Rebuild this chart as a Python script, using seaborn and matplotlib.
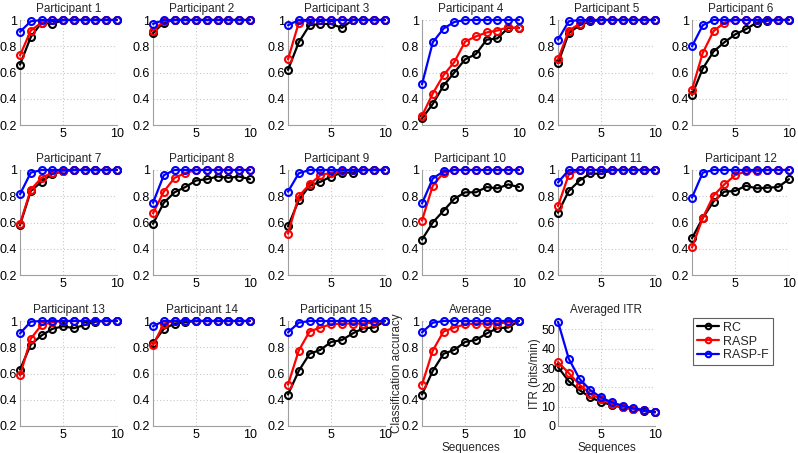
import numpy as np
import pandas as pd
import matplotlib
matplotlib.use("Agg")
import matplotlib.pyplot as plt
from matplotlib.lines import Line2D
import seaborn as sns

sequences = list(range(1, 10 + 1))
methods = ["RC", "RASP", "RASP-F"]
colors = {"RC": "#000000", "RASP": "#ff0000", "RASP-F": "#0000ff"}

titles = ["Participant %d" % i for i in range(1, 16)] + ["Average"]

rc = [
    [0.66, 0.87, 0.98, 0.97, 1, 1, 1, 1, 1, 1],
    [0.90, 0.98, 1, 1, 1, 1, 1, 1, 1, 1],
    [0.62, 0.83, 0.96, 0.97, 0.97, 0.94, 1, 1, 1, 1],
    [0.25, 0.36, 0.50, 0.60, 0.70, 0.74, 0.85, 0.86, 0.94, 0.94],
    [0.67, 0.90, 0.96, 0.99, 1, 1, 1, 1, 1, 1],
    [0.43, 0.63, 0.76, 0.83, 0.89, 0.93, 0.98, 0.995, 1, 1],
    [0.58, 0.84, 0.91, 0.97, 0.99, 1, 1, 1, 1, 1],
    [0.59, 0.75, 0.83, 0.87, 0.92, 0.93, 0.95, 0.94, 0.95, 0.93],
    [0.57, 0.77, 0.88, 0.91, 0.95, 0.98, 0.98, 1, 1, 1],
    [0.47, 0.60, 0.69, 0.78, 0.83, 0.83, 0.87, 0.86, 0.89, 0.87],
    [0.675, 0.84, 0.92, 0.975, 0.97, 1, 1, 1, 1, 1],
    [0.48, 0.635, 0.76, 0.835, 0.84, 0.88, 0.86, 0.865, 0.87, 0.93],
    [0.63, 0.82, 0.89, 0.94, 0.96, 0.945, 0.97, 0.995, 1, 1],
    [0.83, 0.94, 0.98, 0.99, 1, 1, 1, 1, 1, 1],
    [0.44, 0.62, 0.75, 0.78, 0.84, 0.855, 0.905, 0.945, 0.95, 1],
    [0.44, 0.62, 0.75, 0.78, 0.84, 0.855, 0.905, 0.945, 0.95, 1],
]
rasp = [
    [0.73, 0.92, 0.98, 1, 1, 1, 1, 1, 1, 1],
    [0.92, 0.99, 1, 1, 1, 1, 1, 1, 1, 1],
    [0.70, 0.98, 1, 1, 1, 1, 1, 1, 1, 1],
    [0.27, 0.44, 0.58, 0.68, 0.835, 0.875, 0.905, 0.92, 0.945, 0.937],
    [0.70, 0.92, 0.97, 1, 1, 1, 1, 1, 1, 1],
    [0.47, 0.75, 0.915, 0.98, 1, 1, 1, 1, 1, 1],
    [0.59, 0.85, 0.94, 0.98, 0.99, 1, 1, 1, 1, 1],
    [0.67, 0.835, 0.94, 0.977, 1, 1, 1, 1, 1, 1],
    [0.515, 0.80, 0.89, 0.96, 0.98, 0.99, 1, 1, 1, 1],
    [0.615, 0.88, 0.98, 1, 1, 1, 1, 1, 1, 1],
    [0.725, 0.965, 1, 1, 1, 1, 1, 1, 1, 1],
    [0.41, 0.635, 0.805, 0.89, 0.96, 0.99, 0.99, 1, 1, 1],
    [0.585, 0.865, 0.97, 0.99, 1, 1, 1, 1, 1, 1],
    [0.815, 0.98, 1, 1, 1, 1, 1, 1, 1, 1],
    [0.515, 0.775, 0.92, 0.95, 0.975, 0.98, 0.98, 0.98, 0.99, 1],
    [0.515, 0.775, 0.92, 0.95, 0.975, 0.98, 0.98, 0.98, 0.99, 1],
]
raspf = [
    [0.91, 0.99, 1, 1, 1, 1, 1, 1, 1, 1],
    [0.97, 1, 1, 1, 1, 1, 1, 1, 1, 1],
    [0.96, 1, 1, 1, 1, 1, 1, 1, 1, 1],
    [0.51, 0.83, 0.935, 0.985, 1, 1, 1, 1, 1, 1],
    [0.85, 0.99, 1, 1, 1, 1, 1, 1, 1, 1],
    [0.80, 0.96, 1, 1, 1, 1, 1, 1, 1, 1],
    [0.815, 0.98, 1, 1, 1, 1, 1, 1, 1, 1],
    [0.75, 0.96, 1, 1, 1, 1, 1, 1, 1, 1],
    [0.835, 0.975, 1, 1, 1, 1, 1, 1, 1, 1],
    [0.745, 0.935, 0.99, 1, 1, 1, 1, 1, 1, 1],
    [0.905, 1, 1, 1, 1, 1, 1, 1, 1, 1],
    [0.79, 0.98, 1, 1, 1, 1, 1, 1, 1, 1],
    [0.905, 0.995, 1, 1, 1, 1, 1, 1, 1, 1],
    [0.96, 1, 1, 1, 1, 1, 1, 1, 1, 1],
    [0.913, 0.987, 1, 1, 1, 1, 1, 1, 1, 1],
    [0.913, 0.987, 1, 1, 1, 1, 1, 1, 1, 1],
]

itr_rc = [30.5, 23.2, 18.6, 14.8, 12.5, 10.8, 9.6, 8.7, 7.8, 7.0]
itr_rasp = [33.1, 27.4, 21.4, 16.6, 13.9, 11.3, 9.9, 8.7, 8.2, 7.3]
itr_raspf = [54.0, 34.8, 24.4, 18.6, 14.8, 12.2, 10.5, 9.2, 8.2, 7.3]

acc_yticks = [0.2, 0.4, 0.6, 0.8, 1]
acc_yticklabels = ["0.2", "0.4", "0.6", "0.8", "1"]
xticks = [5, 10]
itr_yticks = [0, 10, 20, 30, 40, 50]

sns.set_style("white")
plt.rcParams["font.family"] = ["Liberation Sans", "DejaVu Sans"]

FS = 8.5
fig = plt.figure(figsize=(7.98, 4.53), dpi=100)

W, H = 798.0, 453.0
col_left = [20, 153, 288, 422, 558, 692]
row_top = [20, 170, 321]
ax_w, ax_h = 97, 105

grid_kw = dict(color="#c8c8c8", linestyle=(0, (1, 2)), linewidth=0.8)
spine_col = "#a0a0a0"


def make_ax(r, c):
    left = col_left[c] / W
    bottom = 1 - (row_top[r] + ax_h) / H
    ax = fig.add_axes([left, bottom, ax_w / W, ax_h / H])
    return ax


def style(ax):
    for s in ["top", "right"]:
        ax.spines[s].set_visible(False)
    for s in ["left", "bottom"]:
        ax.spines[s].set_color(spine_col)
        ax.spines[s].set_linewidth(0.8)
    ax.grid(True, **grid_kw)
    ax.set_axisbelow(True)
    ax.tick_params(axis="both", which="both", direction="in", length=2,
                   color=spine_col, labelsize=FS + 0.5, pad=2, labelcolor="black")


def draw(ax, x, ys):
    df = pd.DataFrame({"x": np.tile(x, 3),
                       "y": np.concatenate(ys),
                       "m": np.repeat(methods, len(x))})
    for m in methods:
        sub = df[df.m == m]
        sns.lineplot(data=sub, x="x", y="y", ax=ax, color=colors[m],
                     marker="o", markersize=5, markerfacecolor="none",
                     markeredgecolor=colors[m], markeredgewidth=1.5,
                     linewidth=1.6, clip_on=False, zorder=3, legend=False)


for i, t in enumerate(titles):
    r, c = divmod(i, 6)
    ax = make_ax(r, c)
    draw(ax, sequences, [rc[i], rasp[i], raspf[i]])
    style(ax)
    ax.set_xlim(1, 10)
    ax.set_ylim(0.2, 1.0)
    ax.set_xticks(xticks)
    ax.set_yticks(acc_yticks)
    ax.set_yticklabels(acc_yticklabels)
    ax.set_title(t, fontsize=FS, pad=6)
    ax.set_xlabel("")
    ax.set_ylabel("")
    if t == "Average":
        ax.set_ylabel("Classification accuracy", fontsize=FS)
        ax.yaxis.set_label_coords(-0.2, 0.5)
        ax.set_xlabel("Sequences", fontsize=FS, labelpad=1)

ax = make_ax(2, 4)
draw(ax, sequences, [itr_rc, itr_rasp, itr_raspf])
style(ax)
ax.set_xlim(1, 10)
ax.set_ylim(0, 54.4)
ax.set_xticks(xticks)
ax.set_yticks(itr_yticks)
ax.set_title("Averaged ITR", fontsize=FS, pad=6)
ax.set_ylabel("ITR (bits/min)", fontsize=FS)
ax.yaxis.set_label_coords(-0.18, 0.5)
ax.set_xlabel("Sequences", fontsize=FS, labelpad=1)

handles = [Line2D([0], [0], color=colors[m], marker="o", markersize=4,
                  markerfacecolor="none", markeredgewidth=1.5, linewidth=1.6)
           for m in methods]
leg = fig.legend(handles, methods, loc="upper left",
                 bbox_to_anchor=(693 / W, 1 - 318 / H), fontsize=FS + 0.5,
                 frameon=True, fancybox=False, framealpha=1,
                 edgecolor="#606060", handlelength=1.8, handletextpad=0.3,
                 borderpad=0.3, labelspacing=0.15, borderaxespad=0)
leg.get_frame().set_linewidth(0.8)

fig.savefig("out.png", dpi=100)
